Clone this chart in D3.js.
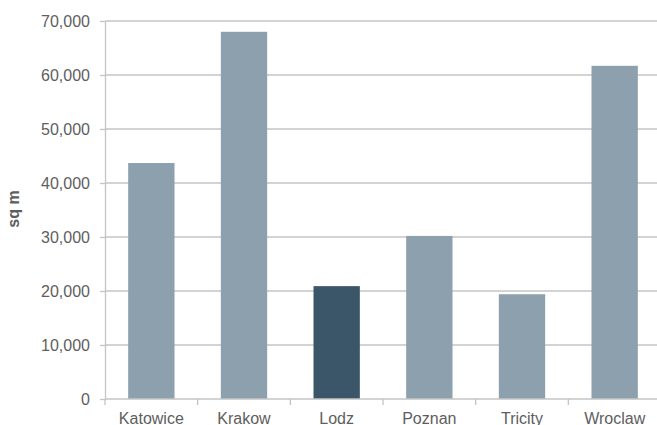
<!DOCTYPE html>
<html>
<head>
<meta charset="utf-8">
<script src="https://cdn.jsdelivr.net/npm/d3@7"></script>
<style>
  body { margin: 0; background: #fff; overflow: hidden; }
  svg { display: block; font-family: "Liberation Sans", Arial, sans-serif; }
  .grid line { stroke: #c4c4c4; stroke-width: 1.3; }
  .axis path, .axis line { stroke: #c4c4c4; stroke-width: 1.3; }
  .axis text { fill: #5e5e5e; font-size: 16px; }
</style>
</head>
<body>
<div id="chart"></div>
<script>
const cities = ["Katowice", "Krakow", "Lodz", "Poznan", "Tricity", "Wroclaw"];
const stock = [43700, 68000, 20900, 30200, 19400, 61700];
const yTicks = [0, 10000, 20000, 30000, 40000, 50000, 60000, 70000];
const highlight = "Lodz";

const width = 657, height = 425;
const margin = { top: 21, right: -4, bottom: 26, left: 105 };

const data = cities.map((c, i) => ({ city: c, value: stock[i] }));

const svg = d3.select("#chart")
  .append("svg")
  .attr("width", width)
  .attr("height", height);

const x = d3.scaleBand()
  .domain(cities)
  .range([margin.left, width - margin.right])
  .paddingInner(0.5)
  .paddingOuter(0.25);

const y = d3.scaleLinear()
  .domain([0, 70000])
  .range([height - margin.bottom, margin.top]);

// grid
svg.append("g")
  .attr("class", "grid")
  .selectAll("line")
  .data(yTicks.slice(1))
  .join("line")
  .attr("x1", margin.left)
  .attr("x2", width - margin.right)
  .attr("y1", d => y(d))
  .attr("y2", d => y(d));

// bars
svg.append("g")
  .selectAll("rect")
  .data(data)
  .join("rect")
  .attr("x", d => x(d.city))
  .attr("y", d => y(d.value))
  .attr("width", x.bandwidth())
  .attr("height", d => y(0) - y(d.value))
  .attr("fill", d => d.city === highlight ? "#3b5669" : "#8da0ae");

// y axis
svg.append("g")
  .attr("class", "axis")
  .attr("transform", "translate(" + margin.left + ",0)")
  .call(d3.axisLeft(y).tickValues(yTicks).tickSize(5).tickSizeOuter(0).tickPadding(10)
    .tickFormat(d3.format(",")));

// x axis, ticks sit on the band boundaries
const xAxis = svg.append("g")
  .attr("class", "axis")
  .attr("transform", "translate(0," + y(0) + ")");

xAxis.append("line")
  .attr("x1", margin.left)
  .attr("x2", width - margin.right);

xAxis.selectAll("line.tick")
  .data(cities)
  .join("line")
  .attr("class", "tick")
  .attr("x1", d => x(d) - x.step() * x.paddingInner() / 2)
  .attr("x2", d => x(d) - x.step() * x.paddingInner() / 2)
  .attr("y1", 0)
  .attr("y2", 6);

xAxis.selectAll("text")
  .data(cities)
  .join("text")
  .attr("x", d => x(d) + x.bandwidth() / 2)
  .attr("y", 25)
  .attr("text-anchor", "middle")
  .text(d => d);

// y title
svg.append("text")
  .attr("transform", "translate(19,209) rotate(-90)")
  .attr("text-anchor", "middle")
  .attr("fill", "#5e5e5e")
  .attr("font-size", "16px")
  .attr("font-weight", "bold")
  .text("sq m");
</script>
</body>
</html>
